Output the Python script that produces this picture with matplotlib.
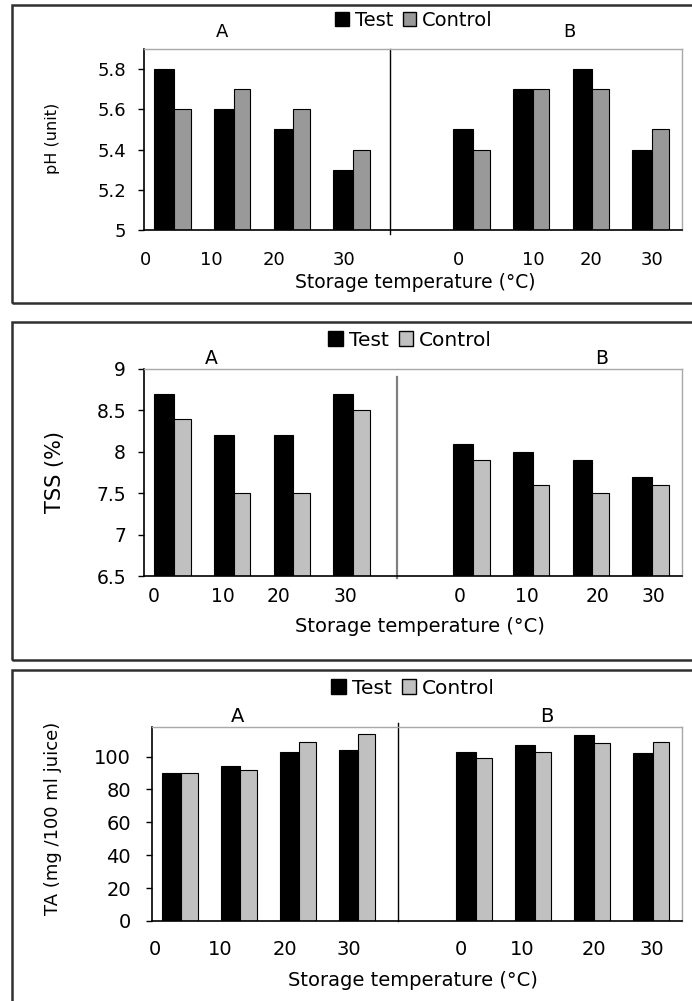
"""plot.py — pH, TSS and TA of juice at four storage temperatures, groups A and B."""

import numpy as np
import matplotlib
matplotlib.use("Agg")
import matplotlib.pyplot as plt             # noqa: E402
from matplotlib.patches import Patch, Rectangle  # noqa: E402

plt.rcParams["font.family"] = ["DejaVu Sans"]

W, H = 692, 1001

# ── data ─────────────────────────────────────────────────────────────────
temps = ["0", "10", "20", "30"]
groups = ["A", "B"]

ph_test_a = [5.8, 5.6, 5.5, 5.3]
ph_ctrl_a = [5.6, 5.7, 5.6, 5.4]
ph_test_b = [5.5, 5.7, 5.8, 5.4]
ph_ctrl_b = [5.4, 5.7, 5.7, 5.5]

tss_test_a = [8.7, 8.2, 8.2, 8.7]
tss_ctrl_a = [8.4, 7.5, 7.5, 8.5]
tss_test_b = [8.1, 8.0, 7.9, 7.7]
tss_ctrl_b = [7.9, 7.6, 7.5, 7.6]

ta_test_a = [90, 94, 103, 104]
ta_ctrl_a = [90, 92, 109, 114]
ta_test_b = [103, 107, 113, 102]
ta_ctrl_b = [99, 103, 108, 109]

ph_ticks = [5, 5.2, 5.4, 5.6, 5.8]
ph_tick_labels = ["5", "5.2", "5.4", "5.6", "5.8"]
tss_ticks = [6.5, 7, 7.5, 8, 8.5, 9]
tss_tick_labels = ["6.5", "7", "7.5", "8", "8.5", "9"]
ta_ticks = [0, 20, 40, 60, 80, 100]
ta_tick_labels = ["0", "20", "40", "60", "80", "100"]


def px(x, y):
    """Pixel position in the reference -> figure fraction."""
    return x / W, 1 - y / H


def panel(fig, box, frame, test, ctrl, ylim, yticks, ylabels, ylabel, spec):
    left, top, right, bottom = box
    x0, y0 = px(left, bottom)
    ax = fig.add_axes([x0, y0, (right - left) / W, (bottom - top) / H])

    pos_a = np.arange(len(temps))
    pos_b = pos_a + len(temps) + 1
    pos = np.concatenate([pos_a, pos_b])
    ax.bar(pos - spec["wt"] / 2, test, width=spec["wt"], color="black",
           edgecolor="black", linewidth=0.8)
    ax.bar(pos + spec["wc"] / 2, ctrl, width=spec["wc"], color=spec["ctrl"],
           edgecolor="black", linewidth=0.8)

    ax.set_xlim(-0.5, pos_b[-1] + 0.5)
    ax.set_ylim(*ylim)
    ax.set_yticks(yticks, ylabels, fontsize=spec["fs"])
    ax.tick_params(axis="y", direction="out", length=4, width=1,
                   pad=spec["ypad"])
    ax.set_xticks(pos + np.array(spec["xoff"]), temps * 2,
                  fontsize=spec["fs"])
    ax.tick_params(axis="x", length=0, pad=spec["xpad"])
    for s in ("top", "right"):
        ax.spines[s].set_color("#a8a8a8")
        ax.spines[s].set_linewidth(1)
    for s in ("left", "bottom"):
        ax.spines[s].set_color("black")
        ax.spines[s].set_linewidth(1.2)

    # divider between A and B
    ax.plot([spec["div"]] * 2, spec["div_y"], transform=ax.get_xaxis_transform(),
            color=spec["div_c"], lw=spec["div_w"], clip_on=False)

    # outer frame of the panel
    fx, fy = px(frame[0], frame[2])
    fig.patches.append(Rectangle((fx, fy), 1.02 - fx, (frame[2] - frame[1]) / H,
                                 transform=fig.transFigure, fill=False,
                                 edgecolor="#303030", lw=1.8))

    for g, (gx, gy) in zip(groups, spec["ab"]):
        fig.text(*px(gx, gy), g, ha="center", va="center", fontsize=spec["fs"])
    fig.text(*px(*spec["xl"]), "Storage temperature (°C)", ha="center",
             va="center", fontsize=spec["xls"])
    fig.text(*px(*spec["yl"]), ylabel, rotation=90, ha="center", va="center",
             fontsize=spec["yls"])

    handles = [Patch(facecolor="black", edgecolor="black"),
               Patch(facecolor=spec["ctrl"], edgecolor="black")]
    fig.legend(handles, ["Test", "Control"], loc="center",
               bbox_to_anchor=px(*spec["leg"]), ncol=2, frameon=False,
               fontsize=spec["ls"], handlelength=0.7, handleheight=0.7,
               handletextpad=0.3, columnspacing=0.5, borderpad=0)
    return ax


fig = plt.figure(figsize=(W / 100, H / 100), dpi=100)

panel(fig, (144, 49, 682, 230), (12, 5, 303),
      ph_test_a + ph_test_b, ph_ctrl_a + ph_ctrl_b, (5, 5.9),
      ph_ticks, ph_tick_labels, "pH (unit)",
      dict(wt=0.33, wc=0.28, ctrl="#999999", fs=13, ypad=9, xpad=15,
           xoff=[-0.47, -0.37, -0.32, -0.15, -0.24, 0.02, -0.03, 0.0],
           div=3.61, div_y=[-0.02, 1], div_c="black", div_w=1,
           ab=[(222, 32), (569, 32)], xl=(415, 283), xls=13.5,
           yl=(52, 138), yls=11.5, leg=(414, 20), ls=14))

panel(fig, (144, 369, 682, 576), (12, 322, 660),
      tss_test_a + tss_test_b, tss_ctrl_a + tss_ctrl_b, (6.5, 9),
      tss_ticks, tss_tick_labels, "TSS (%)",
      dict(wt=0.33, wc=0.28, ctrl="#c0c0c0", fs=13.5, ypad=9, xpad=8,
           xoff=[-0.34, -0.18, -0.25, -0.13, -0.22, -0.10, 0.08, 0.02],
           div=3.73, div_y=[-0.01, 0.96], div_c="#808080", div_w=1.6,
           ab=[(211, 358), (602, 358)], xl=(420, 627), xls=14,
           yl=(55, 472), yls=15, leg=(410, 340), ls=14.5))

panel(fig, (152, 727, 682, 921), (12, 670, 1040),
      ta_test_a + ta_test_b, ta_ctrl_a + ta_ctrl_b, (0, 118),
      ta_ticks, ta_tick_labels, "TA (mg /100 ml juice)",
      dict(wt=0.33, wc=0.28, ctrl="#c0c0c0", fs=14, ypad=11, xpad=14,
           xoff=[-0.45, -0.35, -0.25, -0.15, -0.25, -0.22, 0.0, -0.02],
           div=3.68, div_y=[0, 1.02], div_c="black", div_w=1,
           ab=[(238, 717), (547, 717)], xl=(413, 980), xls=14,
           yl=(53, 818), yls=13, leg=(413, 688), ls=14.5))

fig.savefig("out.png", dpi=100)
